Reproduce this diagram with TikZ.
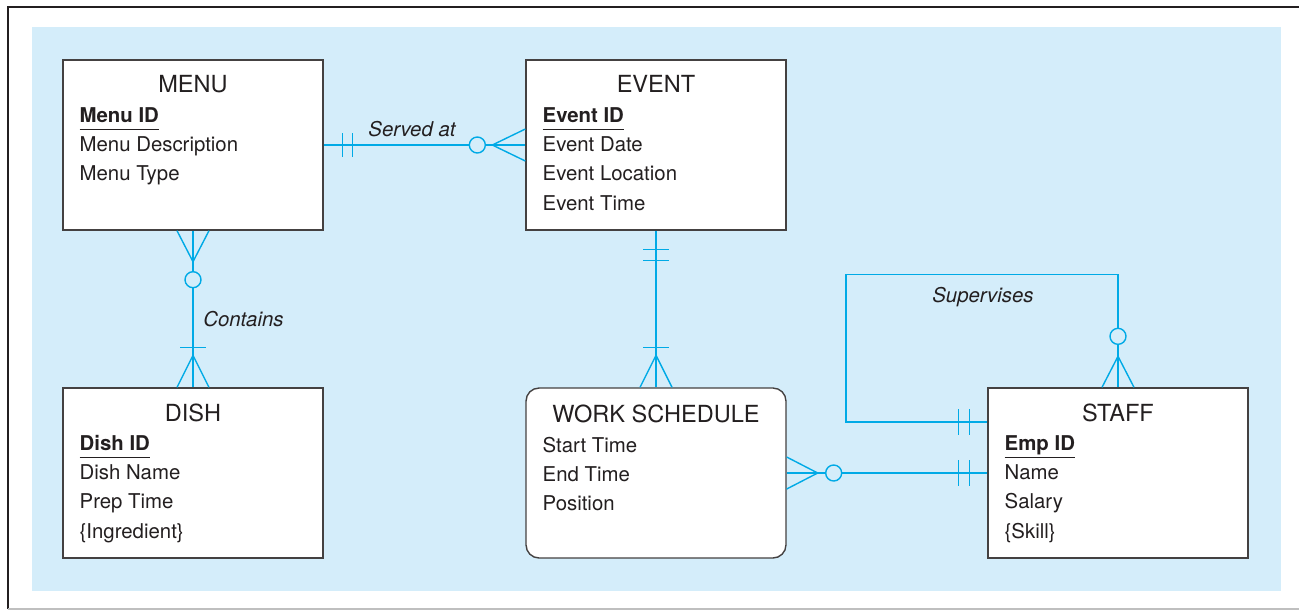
\documentclass[tikz,border=0pt]{standalone}
\usepackage{fontspec}
\setmainfont{TeX Gyre Heros}
\usepackage{xcolor}
\usepackage{tikz}
\usetikzlibrary{calc}

\definecolor{erblue}{RGB}{0,170,230}
\definecolor{panel}{RGB}{212,237,250}
\definecolor{ink}{RGB}{35,31,32}

\newcommand\pkey[1]{\underline{\textbf{#1}\vphantom{g}}}

\begin{document}
\begin{tikzpicture}[x=0.02cm,y=-0.02cm,
      entity/.style={draw=ink!85,fill=white,line width=0.8pt,minimum width=5.2cm,minimum height=3.4cm,inner sep=0pt},
      etitle/.style={anchor=base,font=\fontsize{13.4}{16}\selectfont,text=ink,inner sep=0pt},
      attr/.style={anchor=base west,font=\fontsize{11.6}{14}\selectfont,text=ink,inner sep=0pt},
      lbl/.style={anchor=base,font=\fontsize{11.6}{14}\selectfont\itshape,text=ink,inner sep=0pt},
      rel/.style={draw=erblue,line width=0.8pt},
      opt/.style={rel,fill=panel}]
    \useasboundingbox (0,0) rectangle (1299,610);
    % frame and panel
    \fill[panel] (32,27) rectangle (1281,591);
    \draw[ink,line width=1.4pt] (8,609) -- (8,7) -- (1299,7);
    \draw[black!25,line width=0.8pt] (8,609) -- (1299,609);

    % entities
    \node[entity] (menu) at (193,145) {};
    \node[entity] (event) at (656,145) {};
    \node[entity] (dish) at (193,473) {};
    \node[entity,rounded corners=0.26cm] (ws) at (656,473) {};
    \node[entity] (staff) at (1118,473) {};

    \node[etitle] (menu-t) at ($(menu.north)+(0,33)$) {MENU};
    \foreach \t [count=\k] in {\pkey{Menu ID},Menu Description,Menu Type}
      \node[attr] (menu-a\k) at ($(menu.north west)+(17,33.7+29.3*\k)$) {\t};

    \node[etitle] (event-t) at ($(event.north)+(0,33)$) {EVENT};
    \foreach \t [count=\k] in {\pkey{Event ID},Event Date,Event Location,Event Time}
      \node[attr] (event-a\k) at ($(event.north west)+(17,33.7+29.3*\k)$) {\t};

    \node[etitle] (dish-t) at ($(dish.north)+(0,34)$) {DISH};
    \foreach \t [count=\k] in {\pkey{Dish ID},Dish Name,Prep Time,\{Ingredient\}}
      \node[attr] (dish-a\k) at ($(dish.north west)+(17,33.7+29.3*\k)$) {\t};

    \node[etitle] (ws-t) at ($(ws.north)+(0,35)$) {WORK SCHEDULE};
    \foreach \t [count=\k] in {Start Time,End Time,Position}
      \node[attr] (ws-a\k) at ($(ws.north west)+(17,35.7+29.3*\k)$) {\t};

    \node[etitle] (staff-t) at ($(staff.north)+(0,34)$) {STAFF};
    \foreach \t [count=\k] in {\pkey{Emp ID},Name,Salary,\{Skill\}}
      \node[attr] (staff-a\k) at ($(staff.north west)+(17,33.7+29.3*\k)$) {\t};

    % Served at
    \draw[rel] (menu) -- (event);
    \foreach \d in {19,29}
      \draw[rel] ($(menu.east)+(\d,-12)$) -- ++(0,24);
    \draw[rel] ($(event.west)+(0,-16)$) -- ($(event.west)+(-33,0)$) -- ($(event.west)+(0,16)$);
    \draw[opt] ($(event.west)+(-48,0)$) circle[radius=0.16cm];
    \node[lbl] (served) at (412,136) {Served at};

    % Contains
    \draw[rel] (menu) -- (dish);
    \draw[rel] ($(menu.south)+(-16,0)$) -- ($(menu.south)+(0,31)$) -- ($(menu.south)+(16,0)$);
    \draw[opt] ($(menu.south)+(0,49)$) circle[radius=0.16cm];
    \draw[rel] ($(dish.north)+(-13,-40)$) -- ++(26,0);
    \draw[rel] ($(dish.north)+(-16,0)$) -- ($(dish.north)+(0,-32)$) -- ($(dish.north)+(16,0)$);
    \node[lbl,anchor=base west] (contains) at (203,326) {Contains};

    % event - work schedule
    \draw[rel] (event) -- (ws);
    \foreach \d in {19,30}
      \draw[rel] ($(event.south)+(-13,\d)$) -- ++(26,0);
    \draw[rel] ($(ws.north)+(-13,-40)$) -- ++(26,0);
    \draw[rel] ($(ws.north)+(-16,0)$) -- ($(ws.north)+(0,-32)$) -- ($(ws.north)+(16,0)$);

    % work schedule - staff
    \draw[rel] (ws) -- (staff);
    \draw[rel] ($(ws.east)+(0,-16)$) -- ($(ws.east)+(31,0)$) -- ($(ws.east)+(0,16)$);
    \draw[opt] ($(ws.east)+(47,0)$) circle[radius=0.16cm];
    \foreach \d in {-29,-18}
      \draw[rel] ($(staff.west)+(\d,-13)$) -- ++(0,26);

    % Supervises
    \coordinate (supbend) at (846,422);
    \draw[rel] (staff.north) -- ++(0,-113) -| (supbend) -- (staff.west |- supbend);
    \foreach \d in {-29,-18}
      \draw[rel] ($(staff.west)+(\d,-64)$) -- ++(0,26);
    \draw[rel] ($(staff.north)+(-16,0)$) -- ($(staff.north)+(0,-31)$) -- ($(staff.north)+(16,0)$);
    \draw[opt] ($(staff.north)+(0,-51)$) circle[radius=0.16cm];
    \node[lbl] (supervises) at (983,302) {Supervises};
  \end{tikzpicture}
\end{document}
